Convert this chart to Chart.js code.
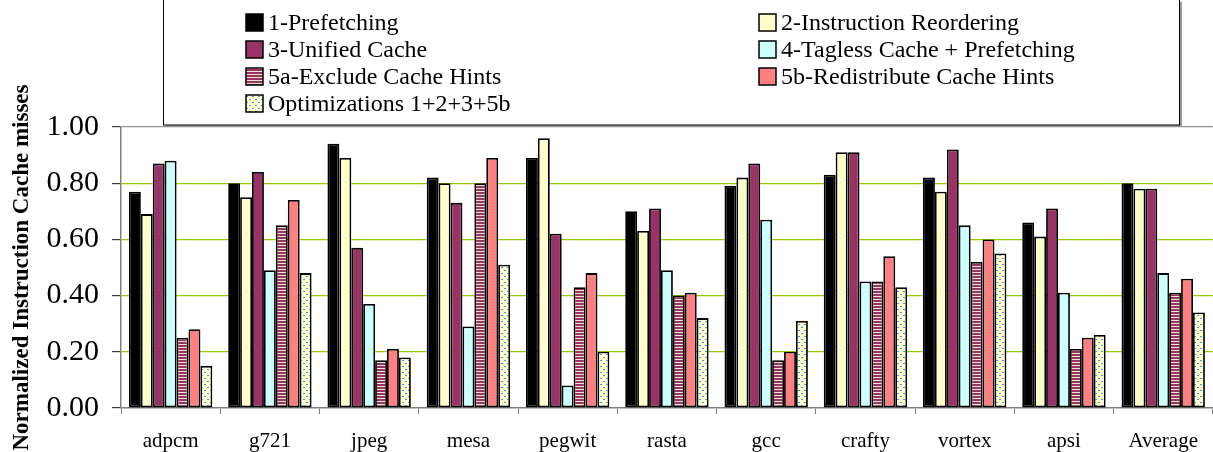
<!DOCTYPE html>
<html>
<head>
<meta charset="utf-8">
<script src="https://cdn.jsdelivr.net/npm/chart.js@4.4.1/dist/chart.umd.min.js"></script>
<style>
  body { margin: 0; background: #fff; }
  #wrap { width: 1213px; height: 452px; }
</style>
</head>
<body>
<div id="wrap"><canvas id="chart" width="1213" height="452"></canvas></div>
<script>
// Data
const labels = ['adpcm', 'g721', 'jpeg', 'mesa', 'pegwit', 'rasta', 'gcc', 'crafty', 'vortex', 'apsi', 'Average'];
const seriesNames = ['1-Prefetching', '2-Instruction Reordering', '3-Unified Cache', '4-Tagless Cache + Prefetching',
                     '5a-Exclude Cache Hints', '5b-Redistribute Cache Hints', 'Optimizations 1+2+3+5b'];
const prefetching   = [0.77, 0.80, 0.94, 0.82, 0.89, 0.70, 0.79, 0.83, 0.82, 0.66, 0.80];
const reordering    = [0.69, 0.75, 0.89, 0.80, 0.96, 0.63, 0.82, 0.91, 0.77, 0.61, 0.78];
const unified       = [0.87, 0.84, 0.57, 0.73, 0.62, 0.71, 0.87, 0.91, 0.92, 0.71, 0.78];
const tagless       = [0.88, 0.49, 0.37, 0.29, 0.08, 0.49, 0.67, 0.45, 0.65, 0.41, 0.48];
const excludeHints  = [0.25, 0.65, 0.17, 0.80, 0.43, 0.40, 0.17, 0.45, 0.52, 0.21, 0.41];
const redistHints   = [0.28, 0.74, 0.21, 0.89, 0.48, 0.41, 0.20, 0.54, 0.60, 0.25, 0.46];
const combined      = [0.15, 0.48, 0.18, 0.51, 0.20, 0.32, 0.31, 0.43, 0.55, 0.26, 0.34];
const yStep = 0.2;

const ctx = document.getElementById('chart').getContext('2d');

// horizontal stripes for 5a
function stripePattern() {
    const c = document.createElement('canvas');
    c.width = 4; c.height = 3;
    const g = c.getContext('2d');
    g.fillStyle = '#F5E6C8';
    g.fillRect(0, 0, 4, 3);
    g.fillStyle = '#993366';
    g.fillRect(0, 0, 4, 2);
    return ctx.createPattern(c, 'repeat');
}

// blue dashes on light yellow for the combined series
function dotPattern() {
    const c = document.createElement('canvas');
    c.width = 6; c.height = 6;
    const g = c.getContext('2d');
    g.fillStyle = '#FFFFCC';
    g.fillRect(0, 0, 6, 6);
    g.fillStyle = '#3399FF';
    g.fillRect(0, 0, 2, 1);
    g.fillRect(3, 3, 2, 1);
    return ctx.createPattern(c, 'repeat');
}

const fills = ['#000000', '#FFFFCC', '#993366', '#CCFFFF', stripePattern(), '#FF8080', dotPattern()];
const values = [prefetching, reordering, unified, tagless, excludeHints, redistHints, combined];

const serif = "'Liberation Serif', 'Times New Roman', serif";

// boxed two-column legend like the original
const boxLegend = {
    id: 'boxLegend',
    afterDraw(chart) {
        const c = chart.ctx;
        c.save();
        c.fillStyle = '#9a9a9a';
        c.fillRect(166, 125, 1015, 2);
        c.fillRect(1180, 2, 2, 124);
        c.strokeStyle = '#000';
        c.lineWidth = 1;
        c.fillStyle = '#fff';
        c.fillRect(163.5, -1, 1016, 126);
        c.strokeRect(163.5, -1, 1016, 126);
        const colX = [246, 759];
        const rowY = [22, 49, 76, 103];
        c.font = '24px ' + serif;
        c.textBaseline = 'alphabetic';
        chart.data.datasets.forEach((ds, i) => {
            const x = colX[i % 2];
            const y = rowY[Math.floor(i / 2)];
            c.fillStyle = ds.backgroundColor;
            c.fillRect(x, y - 8, 17, 17);
            c.lineWidth = 1.5;
            c.strokeStyle = '#000';
            c.strokeRect(x, y - 8, 17, 17);
            c.fillStyle = '#000';
            c.fillText(ds.label, x + 22, y + 8);
        });
        c.restore();
    }
};

new Chart(ctx, {
    type: 'bar',
    data: {
        labels: labels,
        datasets: seriesNames.map((name, i) => ({
            label: name,
            data: values[i],
            backgroundColor: fills[i],
            borderColor: '#000',
            borderWidth: 1.8,
            borderSkipped: false,
            categoryPercentage: 0.84,
            barPercentage: 1.0
        }))
    },
    options: {
        responsive: false,
        animation: false,
        layout: { padding: { top: 127, left: 0, right: 0, bottom: 0 } },
        plugins: {
            legend: { display: false },
            tooltip: { enabled: false }
        },
        scales: {
            x: {
                afterFit: s => { s.height = 44; },
                grid: {
                    drawOnChartArea: false,
                    tickLength: 6,
                    color: '#808080'
                },
                border: { color: '#808080', width: 1.5 },
                ticks: {
                    color: '#000',
                    padding: 15,
                    font: { family: serif, size: 21 },
                    maxRotation: 0
                }
            },
            y: {
                min: 0,
                max: 1,
                afterFit: s => { s.width = 121; },
                grid: {
                    color: ['rgba(0,0,0,0)', '#99CC00', '#99CC00', '#99CC00', '#99CC00', '#909090'],
                    tickColor: '#404040',
                    tickLength: 9,
                    lineWidth: 1.2
                },
                border: { color: '#808080', width: 1.5 },
                ticks: {
                    stepSize: yStep,
                    color: '#000',
                    padding: 13,
                    font: { family: serif, size: 30 },
                    callback: v => v.toFixed(2)
                },
                title: {
                    display: true,
                    text: 'Normalized Instruction Cache misses',
                    color: '#000',
                    font: { family: serif, size: 23, weight: 'bold' },
                    padding: { top: 8, bottom: 0 }
                }
            }
        }
    },
    plugins: [boxLegend]
});
</script>
</body>
</html>
